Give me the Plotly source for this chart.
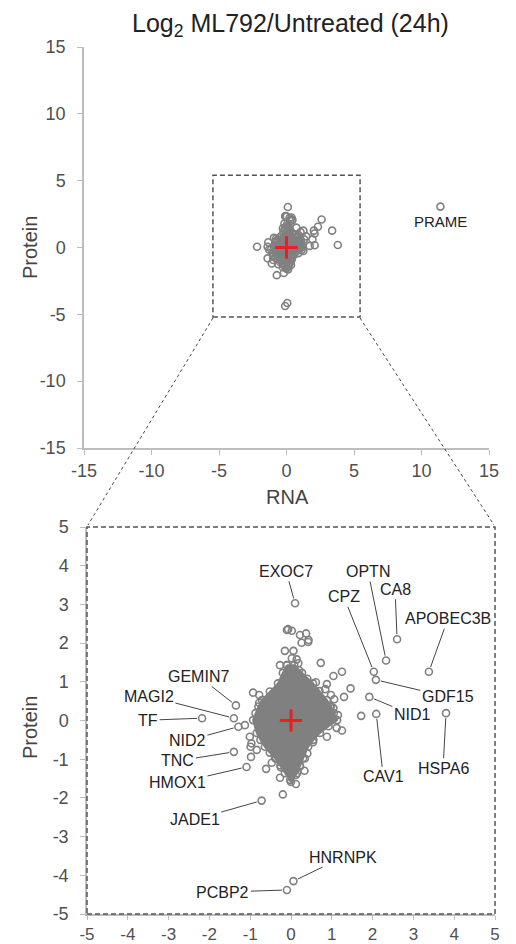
import plotly.graph_objects as go

# ---------------- data (log2 ML792 / untreated, 24h) ----------------
# labelled genes
gene_names = ["EXOC7", "OPTN", "CA8", "CPZ", "APOBEC3B", "GDF15", "NID1", "CAV1",
              "HSPA6", "GEMIN7", "MAGI2", "TF", "NID2", "TNC", "HMOX1", "JADE1",
              "HNRNPK", "PCBP2", "PRAME"]
gene_rna = [0.10, 2.33, 2.60, 2.03, 3.38, 2.08, 1.92, 2.09,
            3.80, -1.35, -1.40, -2.18, -1.29, -1.40, -1.09, -0.72,
            0.06, -0.10, 11.40]
gene_protein = [3.03, 1.55, 2.10, 1.26, 1.26, 1.05, 0.61, 0.17,
                0.19, 0.39, 0.06, 0.06, -0.16, -0.81, -1.20, -2.07,
                -4.15, -4.38, 3.06]

# other (unlabelled) outlying proteins
other_rna = [-0.07, 0.02, 0.22, 0.37, 0.26, 0.42, -0.15, 0.06, 0.02, 0.14,
             -0.27, 0.18, 0.73, 1.25, 1.04, 0.61, 0.88, 0.84, 0.98, 1.30,
             1.06, 1.04, 1.15, 1.46, -0.10, 0.43,
             -0.93, -0.78, -0.78, -0.47, -1.13, -1.01, -0.97, -0.99, -0.84, -0.98,
             -0.61, -0.47, -0.37, -0.27, -0.25, -0.02, 0.12, 0.12, 0.33, 0.22,
             1.25, 1.12, 0.88, 0.54, 0.92, 0.96, 0.40, 0.34, 1.72, -0.20]
other_protein = [2.36, 2.32, 2.21, 2.25, 2.01, 2.03, 1.80, 1.80, 1.61, 1.58,
                 1.43, 1.48, 1.49, 1.26, 1.15, 0.99, 0.94, 0.81, 0.66, 0.61,
                 0.55, 0.32, 0.14, 0.83, 2.34, 2.08,
                 0.72, 0.66, 0.46, 0.53, -0.12, -0.42, -0.59, -0.68, -0.76, -0.94,
                 -1.25, -1.09, -0.99, -1.48, -1.21, -1.54, -1.64, -1.41, -1.30, -1.19,
                 -0.26, -0.19, -0.42, -0.56, 0.14, 0.36, -0.85, -0.98, 0.12, -1.91]

# outline of the dense core of the distribution (thousands of overlapping proteins)
core_rna = [-0.10, 0.08, 0.20, 0.27, 0.40, 0.54, 0.70, 0.88, 0.98, 1.05, 1.13, 0.92,
            0.71, 0.55, 0.42, 0.30, 0.22, 0.15, 0.00, -0.15, -0.26, -0.39, -0.52,
            -0.64, -0.75, -0.84, -0.93, -0.87, -0.80, -0.71, -0.52, -0.32, -0.20, -0.10]
core_protein = [1.43, 1.43, 1.30, 1.23, 1.08, 0.96, 0.76, 0.53, 0.36, 0.19, 0.01, -0.15,
                -0.32, -0.50, -0.68, -0.97, -1.16, -1.36, -1.59, -1.36, -1.16, -0.97, -0.83,
                -0.68, -0.50, -0.32, 0.01, 0.19, 0.36, 0.53, 0.75, 0.96, 1.23, 1.43]

# median marker
median_rna = [0.0]
median_protein = [0.0]

ticks_top = [-15, -10, -5, 0, 5, 10, 15]
ticks_zoom = [-5, -4, -3, -2, -1, 0, 1, 2, 3, 4, 5]

# ---------------- styling ----------------
W, H = 516, 944
GREY = "#808080"
AXIS = "#bdbdbd"
FAMILY = "Liberation Sans, Arial, sans-serif"
TICKFONT = dict(family=FAMILY, size=18, color="#505050")
LABELFONT = dict(family=FAMILY, size=16, color="#222222")


def px(x):
    return x / W


def py(y):
    return 1 - y / H


fig = go.Figure()

for xa, ya in (("x", "y"), ("x2", "y2")):
    fig.add_trace(go.Scatter(x=core_rna, y=core_protein, mode="lines+markers", fill="toself",
                             fillcolor=GREY, line=dict(color=GREY, width=2),
                             marker=dict(symbol="circle-open", size=7, color=GREY,
                                         line=dict(color=GREY, width=1.6)),
                             xaxis=xa, yaxis=ya, hoverinfo="skip", showlegend=False))
    fig.add_trace(go.Scatter(x=other_rna + gene_rna, y=other_protein + gene_protein,
                             mode="markers", xaxis=xa, yaxis=ya, showlegend=False,
                             marker=dict(symbol="circle-open", size=7, color=GREY,
                                         line=dict(color=GREY, width=1.6))))
    fig.add_trace(go.Scatter(x=median_rna, y=median_protein, mode="markers",
                             xaxis=xa, yaxis=ya, showlegend=False,
                             marker=dict(symbol="cross-thin", size=16, color="#ee1d24",
                                         line=dict(color="#ee1d24", width=3))))

axis_common = dict(showgrid=False, zeroline=False, showline=True, linecolor=AXIS,
                   linewidth=1.5, ticks="outside", tickcolor=AXIS,
                   tickwidth=1.2, fixedrange=True, automargin=False)

fig.update_layout(
    width=W, height=H, margin=dict(l=0, r=0, t=0, b=0),
    paper_bgcolor="white", plot_bgcolor="white",
    xaxis=dict(domain=[px(84), px(489)], range=[-15, 15], tickvals=ticks_top,
               ticktext=[str(v) for v in ticks_top], ticklen=5, tickfont=TICKFONT,
               anchor="y", ticklabelstandoff=1, **axis_common),
    yaxis=dict(domain=[py(448), py(47)], range=[-15, 15], tickvals=ticks_top,
               ticktext=[str(v) for v in ticks_top], ticklen=5, tickfont=TICKFONT,
               anchor="x", ticklabelstandoff=8, **axis_common),
    xaxis2=dict(domain=[px(87), px(495)], range=[-5, 5], tickvals=ticks_zoom,
                ticktext=[str(v) for v in ticks_zoom], ticklen=4,
                tickfont=dict(family=FAMILY, size=17, color="#505050"),
                anchor="y2", ticklabelstandoff=0, **axis_common),
    yaxis2=dict(domain=[py(914), py(527)], range=[-5, 5], tickvals=ticks_zoom,
                ticktext=[str(v) for v in ticks_zoom], ticklen=5, tickfont=TICKFONT,
                anchor="x2", ticklabelstandoff=8, **axis_common),
)

shapes = []
DASH = dict(color="#555555", width=1.5, dash="5px,3px")
# zoom window in the overview
shapes.append(dict(type="rect", xref="x", yref="y", x0=-5.45, x1=5.45, y0=-5.2, y1=5.4,
                   line=DASH, layer="above"))
# frame of the zoomed panel
shapes.append(dict(type="rect", xref="x2 domain", yref="y2 domain", x0=0, x1=1, y0=0, y1=1,
                   line=DASH, layer="above"))
# connector lines
CONN = dict(color="#444444", width=1, dash="3px,3px")
shapes.append(dict(type="line", xref="paper", yref="paper", x0=px(213), y0=py(318),
                   x1=px(88), y1=py(525), line=CONN))
shapes.append(dict(type="line", xref="paper", yref="paper", x0=px(360), y0=py(318),
                   x1=px(494), y1=py(525), line=CONN))
fig.update_layout(shapes=shapes)

ann = []
ann.append(dict(text="Log<sub>2</sub> ML792/Untreated (24h)", xref="paper", yref="paper",
                x=px(290), y=py(25), xanchor="center", yanchor="middle", showarrow=False,
                font=dict(family=FAMILY, size=25, color="#222222")))
TITLEFONT = dict(family=FAMILY, size=20, color="#444444")
ann.append(dict(text="Protein", xref="paper", yref="paper", x=px(30), y=py(248),
                xanchor="center", yanchor="middle",
                textangle=-90, showarrow=False, font=TITLEFONT))
ann.append(dict(text="RNA", xref="paper", yref="paper", x=px(287), y=py(497),
                xanchor="center", yanchor="middle", showarrow=False, font=TITLEFONT))
ann.append(dict(text="Protein", xref="paper", yref="paper", x=px(30), y=py(728),
                xanchor="center", yanchor="middle",
                textangle=-90, showarrow=False, font=TITLEFONT))

# label offsets (pixels) for the zoomed panel
label_offsets = {
    "EXOC7": (-9, -32), "OPTN": (-18, -89), "CA8": (-2, -50), "CPZ": (-30, -75),
    "APOBEC3B": (19, -53), "GDF15": (72, 17), "NID1": (43, 18), "CAV1": (7, 63),
    "HSPA6": (-3, 55), "GEMIN7": (-37, -29), "MAGI2": (-85, -22), "TF": (-54, 2),
    "NID2": (-51, 14), "TNC": (-56, 9), "HMOX1": (-69, 16), "JADE1": (-67, 19),
    "HNRNPK": (50, -24), "PCBP2": (-64, 2),
}
for name, gx, gy in zip(gene_names, gene_rna, gene_protein):
    if name in label_offsets:
        dx, dy = label_offsets[name]
        ann.append(dict(text=name, x=gx, y=gy, xref="x2", yref="y2", ax=dx, ay=dy,
                        showarrow=True, arrowhead=0, arrowwidth=1, arrowcolor="#444444",
                        standoff=5, font=LABELFONT))
    elif name == "PRAME":
        ann.append(dict(text=name, x=gx, y=gy, xref="x", yref="y", showarrow=False,
                        yshift=-15, font=dict(family=FAMILY, size=15, color="#222222")))
fig.update_layout(annotations=ann)

fig.write_html("out.html", config={"displayModeBar": False},
               post_script="document.body.style.margin='0';document.body.style.padding='0';"
                           "document.body.style.overflow='hidden';")
